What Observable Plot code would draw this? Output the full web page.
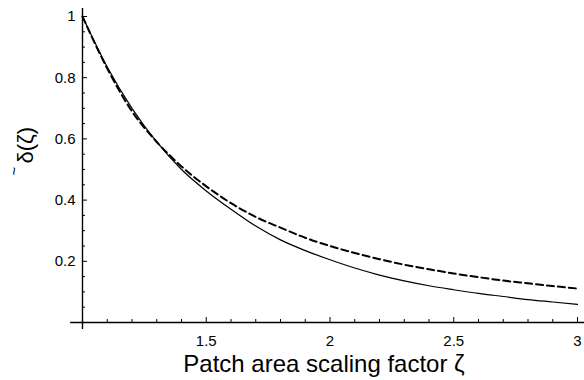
<!DOCTYPE html>
<html><head><meta charset="utf-8">
<script src="https://cdn.jsdelivr.net/npm/d3@7"></script>
<script src="https://cdn.jsdelivr.net/npm/@observablehq/plot@0.6"></script>
<style>body{margin:0;background:#fff}</style>
</head><body><div id="chart"></div>
<script>
const zeta   = [1.0,1.1,1.2,1.3,1.4,1.5,1.6,1.7,1.8,1.9,2.0,2.1,2.2,2.3,2.4,2.5,2.6,2.7,2.8,2.9,3.0];
const solid  = [1.0,0.835,0.70,0.59,0.50,0.43,0.37,0.315,0.27,0.235,0.205,0.178,0.155,0.136,0.12,0.107,0.095,0.085,0.075,0.067,0.059];
const dashed = [1.0,0.83,0.69,0.59,0.51,0.445,0.39,0.345,0.31,0.277,0.25,0.227,0.207,0.189,0.174,0.16,0.148,0.137,0.128,0.119,0.111];
const xMajor = [1.5,2,2.5,3];
const xMinor = [1.1,1.2,1.3,1.4,1.6,1.7,1.8,1.9,2.1,2.2,2.3,2.4,2.6,2.7,2.8,2.9];
const yMajor = [0.2,0.4,0.6,0.8,1];
const yMinor = [0.05,0.1,0.15,0.25,0.3,0.35,0.45,0.5,0.55,0.65,0.7,0.75,0.85,0.9,0.95];
const xTitle = "Patch area scaling factor ζ";
const yTitle = "δ(ζ)";
const yTitleAccent = "~";

const solidData = zeta.map((z,i)=>({z, v: solid[i]}));
const dashedData = zeta.map((z,i)=>({z, v: dashed[i]}));

const chart = Plot.plot({
  width:584, height:380,
  marginLeft:82, marginRight:7, marginTop:16, marginBottom:58,
  x:{domain:[1,3]}, y:{domain:[0,1]},
  style:{fontFamily:"'Liberation Sans', Arial, sans-serif", fontSize:"15px", background:"#fff", color:"#000", overflow:"visible"},
  marks:[
    Plot.axisX(xMinor, {tickSize:-3, fill:"none", label:null, strokeWidth:1}),
    Plot.axisX(xMajor, {tickSize:-5, fill:"none", label:null, strokeWidth:1}),
    Plot.axisX(xMajor, {tickSize:0, tickPadding:13, label:null, tickFormat:d=>String(d), fontSize:15}),
    Plot.axisY(yMinor, {tickSize:-3, fill:"none", label:null, strokeWidth:1}),
    Plot.axisY(yMajor, {tickSize:-5, fill:"none", label:null, strokeWidth:1}),
    Plot.axisY(yMajor, {tickSize:0, tickPadding:7, label:null, tickFormat:d=>String(d), fontSize:15}),
    Plot.ruleY([0], {x1:0.952, x2:3.03, stroke:"#000", strokeWidth:1.4}),
    Plot.ruleX([1], {y1:-0.023, y2:1.026, stroke:"#000", strokeWidth:1.4}),
    Plot.line(dashedData, {x:"z", y:"v", stroke:"#000", strokeWidth:2, strokeDasharray:"7,4", curve:"monotone-x"}),
    Plot.line(solidData, {x:"z", y:"v", stroke:"#000", strokeWidth:1.2, curve:"monotone-x"}),
    Plot.text([xTitle], {frameAnchor:"bottom", dy:42, dx:-6, lineAnchor:"middle", fontSize:24, fill:"#000"}),
    Plot.text([yTitle], {frameAnchor:"left", dx:-57, dy:-6, rotate:-90, lineAnchor:"middle", fontSize:22, fill:"#000"}),
    Plot.text([yTitleAccent], {frameAnchor:"left", dx:-68, dy:6, rotate:-90, lineAnchor:"middle", fontSize:15, fill:"#000"})
  ]
});
document.getElementById("chart").appendChild(chart);
</script>
</body></html>
